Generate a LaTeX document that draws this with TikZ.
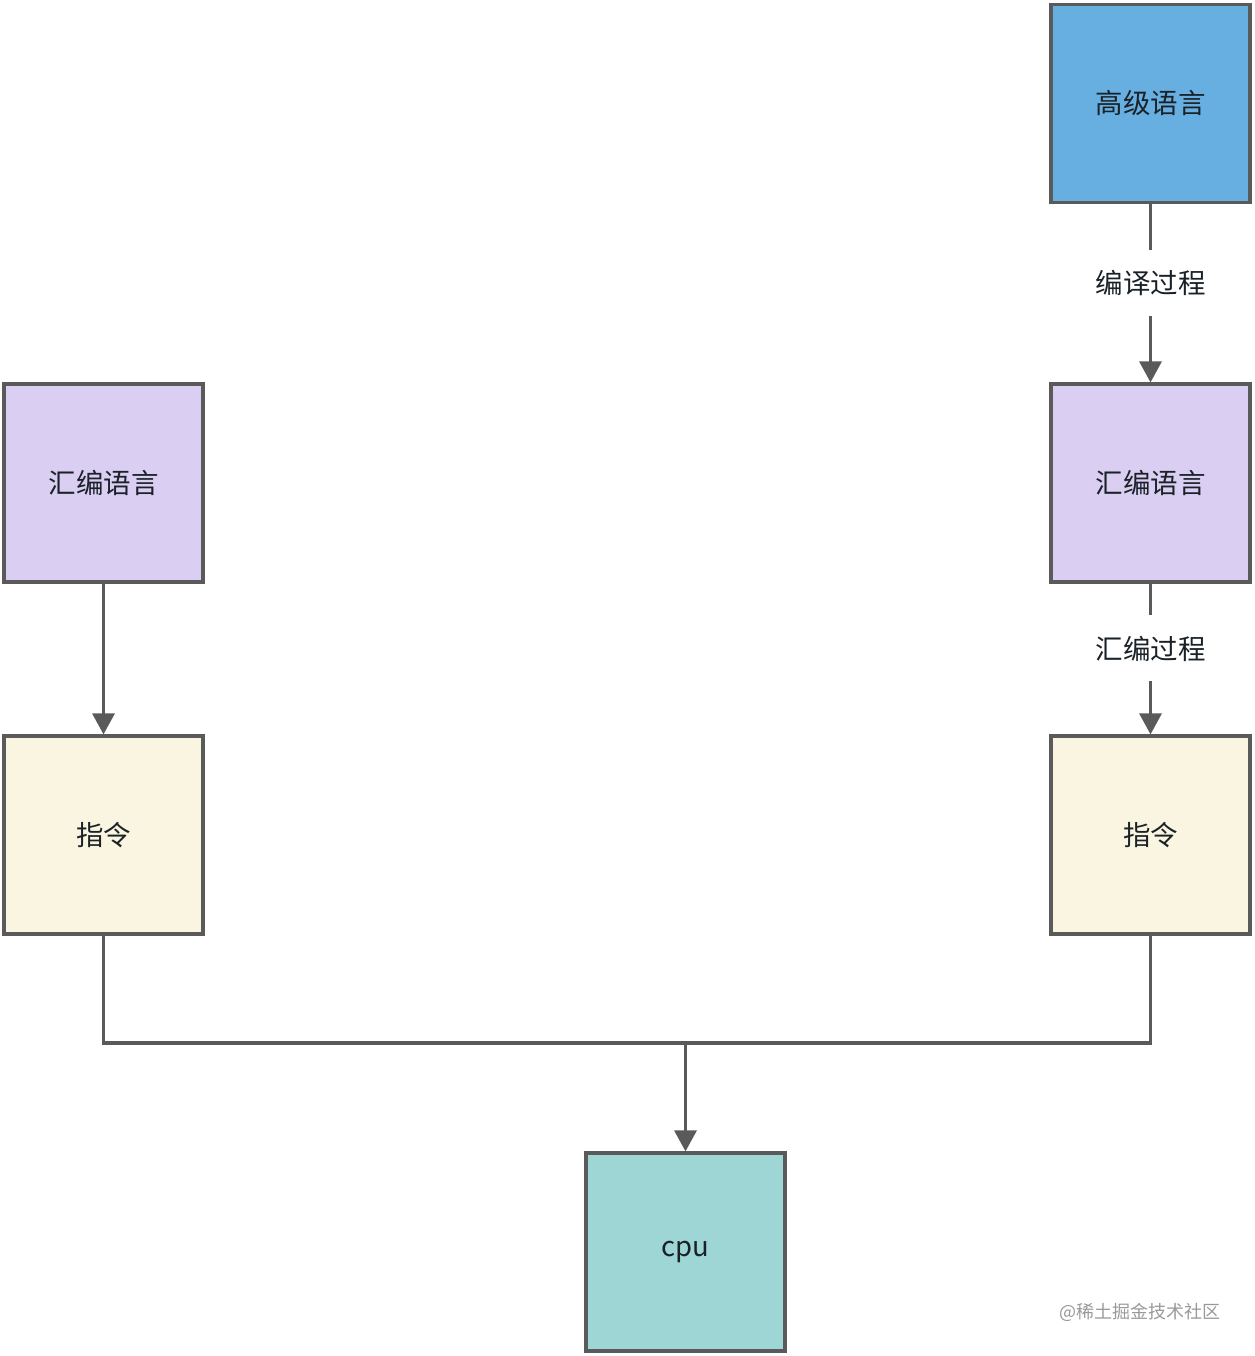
\documentclass[tikz,border=0pt]{standalone}
\usepackage{fontspec}
\setmainfont{Noto Sans CJK SC}
\usetikzlibrary{arrows.meta}
\definecolor{edge}{HTML}{5A5A5A}
\definecolor{cblue}{HTML}{67AFE0}
\definecolor{cpurple}{HTML}{DACEF3}
\definecolor{ccream}{HTML}{FAF5E0}
\definecolor{cteal}{HTML}{9DD6D4}
\definecolor{txt}{HTML}{1A2228}
\tikzset{
  box/.style={draw=edge, line width=3.2pt, minimum width=199pt, minimum height=198pt, inner sep=0pt,
    text=txt, font=\fontsize{27.5}{32}\selectfont},
  conn/.style={draw=edge, line width=3.2pt},
  arr/.style={conn, -{Triangle[length=21pt,width=22pt]}},
  lbl/.style={fill=white, inner xsep=6pt, inner ysep=0pt, minimum height=66pt, text=txt, font=\fontsize{27.5}{32}\selectfont}
}
\begin{document}
\begin{tikzpicture}[x=1pt,y=-1pt]
\useasboundingbox (0,0) rectangle (1254,1356);
\node[box, fill=cblue] (hl) at (1150.5,103.5) {高级语言};
\node[box, fill=cpurple] (asmR) at (1150.5,483) {汇编语言};
\node[box, fill=ccream] (insR) at (1150.5,835) {指令};
\node[box, fill=cpurple] (asmL) at (103.5,483) {汇编语言};
\node[box, fill=ccream] (insL) at (103.5,835) {指令};
\node[box, fill=cteal] (cpu) at (685.5,1252) {cpu};
\coordinate (join) at (685.5,1043);
\draw[arr] (hl) -- node[lbl, pos=0.44] {编译过程} (asmR);
\draw[arr] (asmR) -- node[lbl, pos=0.43] {汇编过程} (insR);
\draw[arr] (asmL) -- (insL);
\draw[conn] (insL.south) |- (join);
\draw[conn] (insR.south) |- (join);
\draw[arr] (join) -- (cpu);
\node[text=black!40, font=\fontsize{18}{21}\selectfont] (wm) at (1140,1312) {@稀土掘金技术社区};
\end{tikzpicture}
\end{document}
